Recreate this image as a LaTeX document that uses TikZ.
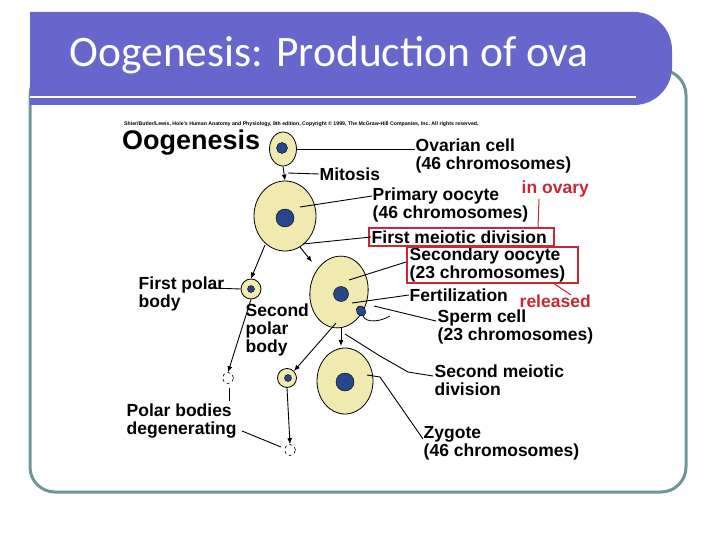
\documentclass[tikz,border=0pt]{standalone}
\usepackage{fontspec}
\setmainfont{Liberation Sans}
\newfontfamily\titlefont{Carlito}
\usetikzlibrary{arrows.meta,positioning,shapes.geometric}
\definecolor{barblue}{RGB}{102,102,204}
\definecolor{framegray}{RGB}{110,150,150}
\definecolor{cyto}{RGB}{240,234,176}
\definecolor{nucl}{RGB}{40,70,140}
\definecolor{boxred}{RGB}{200,40,50}
\tikzset{
  cell/.style={draw=black,line width=0.8pt,fill=cyto,ellipse},
  nucleus/.style={draw=black,fill=nucl,circle,inner sep=0pt},
  lbl/.style={anchor=west,inner sep=0.5pt,align=left,font=\fontsize{17.5}{18}\selectfont\bfseries},
  redlbl/.style={lbl,text=boxred},
  lead/.style={line width=0.9pt},
  arr/.style={line width=0.9pt,-{Latex[length=6pt,width=5pt]}},
  rbox/.style={draw=boxred,line width=1.3pt}
}
\begin{document}
\begin{tikzpicture}[x=1pt,y=-1pt]
\useasboundingbox (0,0) rectangle (720,540);
% frame and title bar
\draw[framegray,line width=3pt,rounded corners=25pt] (30,70) rectangle (686,492);
\fill[barblue] (30,105) -- (30,12) [rounded corners=38pt] -- (672,12) -- (672,105) [sharp corners] -- cycle;
\draw[white,line width=2pt] (30,97) -- (636,97);
\node[anchor=west,text=white,font=\titlefont\fontsize{43.5}{45}\selectfont] (title) at (66,55) {Oogenesis: Production of ova};
\fill[white] (110,112) rectangle (610,478);
% copyright line
\node[anchor=west,inner sep=0pt,font=\fontsize{5.2}{6}\selectfont\bfseries] (copy) at (124,124) {Shier/Butler/Lewis, Hole's Human Anatomy and Physiology, 8th edition, Copyright \copyright{} 1999, The McGraw-Hill Companies, Inc.\ All rights reserved.};
\node[anchor=west,inner sep=0pt,font=\fontsize{27}{29}\selectfont\bfseries] (head) at (122,143) {Oogenesis};
% cells
\node[cell,minimum width=27pt,minimum height=34pt] (ovar) at (283,149) {};
\node[nucleus,minimum size=11pt] at (282,148) {};
\node[cell,minimum width=62pt,minimum height=70pt] (prim) at (285,216) {};
\node[nucleus,minimum size=18pt] at (285,218) {};
\node[cell,minimum width=58pt,minimum height=72pt,rotate=-8] (sec) at (339,292) {};
\node[nucleus,minimum size=15pt] at (341,294) {};
\node[cell,minimum width=56pt,minimum height=66pt] (zyg) at (345,381) {};
\node[nucleus,minimum size=18pt] at (345,382) {};
\node[cell,circle,minimum size=20pt] (pb1) at (251,289) {};
\node[nucleus,minimum size=7pt] at (251,289) {};
\node[cell,circle,minimum size=19pt] (pb2) at (287,378) {};
\node[nucleus,minimum size=7pt] at (288,378) {};
\node[draw,circle,dashed,line width=0.6pt,minimum size=11pt] (deg1) at (228,378) {};
\node[draw,circle,dashed,line width=0.6pt,minimum size=11pt] (deg2) at (290,450) {};
% sperm
\node[nucleus,ellipse,minimum width=9pt,minimum height=11pt,rotate=30] (sperm) at (361,311) {};
\draw[line width=0.8pt] (sperm) .. controls (366,323) and (380,322) .. (390,316);
% labels
\node[lbl] (ovarL) at (415,156) {Ovarian cell\\(46 chromosomes)};
\node[lbl] (mitL) at (319,174) {Mitosis};
\node[lbl] (primL) at (372,205) {Primary oocyte\\(46 chromosomes)};
\node[lbl] (fmdL) at (371,237) {First meiotic division};
\draw[rbox] (369,228) rectangle (554,246);
\node[redlbl] (ovaryL) at (521,189) {in ovary};
\node[lbl] (secL) at (409,265) {Secondary oocyte\\(23 chromosomes)};
\draw[rbox] (407,247) rectangle (578,283);
\node[lbl] (fertL) at (409,295) {Fertilization};
\node[redlbl] (relL) at (519,301) {released};
\node[lbl] (spL) at (437,327) {Sperm cell\\(23 chromosomes)};
\node[lbl] (smdL) at (434,380) {Second meiotic\\division};
\node[lbl] (zygL) at (423,443) {Zygote\\(46 chromosomes)};
\node[lbl] (fpL) at (138,294) {First polar\\body};
\node[lbl] (spbL) at (245,330) {Second\\polar\\body};
\node[lbl] (pbdL) at (126,421) {Polar bodies\\degenerating};
% leader lines
\draw[lead] (ovar.east) -- (ovarL.west |- ovar.east);
\draw[lead] (288,173) -- (mitL.west);
\draw[lead] (300,207) -- (372,196);
\draw[lead] (303,244) -- (fmdL.west);
\draw[lead] (349,280) -- (406,262);
\draw[lead] (352,303) -- (fertL.west);
\draw[lead] (374,306) -- (436,321);
\draw[lead] (345,334) -- (380,356) -- (408,372) -- (433,376);
\draw[lead] (367,375) -- (380,377) -- (423,439);
\draw[lead] (211,288) -- (pb1.west);
\draw[lead] (229,388) -- (229,401);
\draw[lead] (242,431) -- (281,447);
\draw[boxred,line width=1pt] (539,199) -- (538,228);
\draw[boxred,line width=1pt] (553,283) -- (571,295);
% division arrows
\draw[arr] (ovar.south) -- (prim.north);
\draw[arr] (265,245) -- (pb1.north);
\draw[arr] (300,247) -- (312,262);
\draw[arr] (pb1.south) -- (deg1.north);
\draw[arr] (341,327) -- (341,346);
\draw[arr] (336,323) -- (pb2.north east);
\draw[arr] (pb2.south) -- (deg2.north);
\end{tikzpicture}
\end{document}
